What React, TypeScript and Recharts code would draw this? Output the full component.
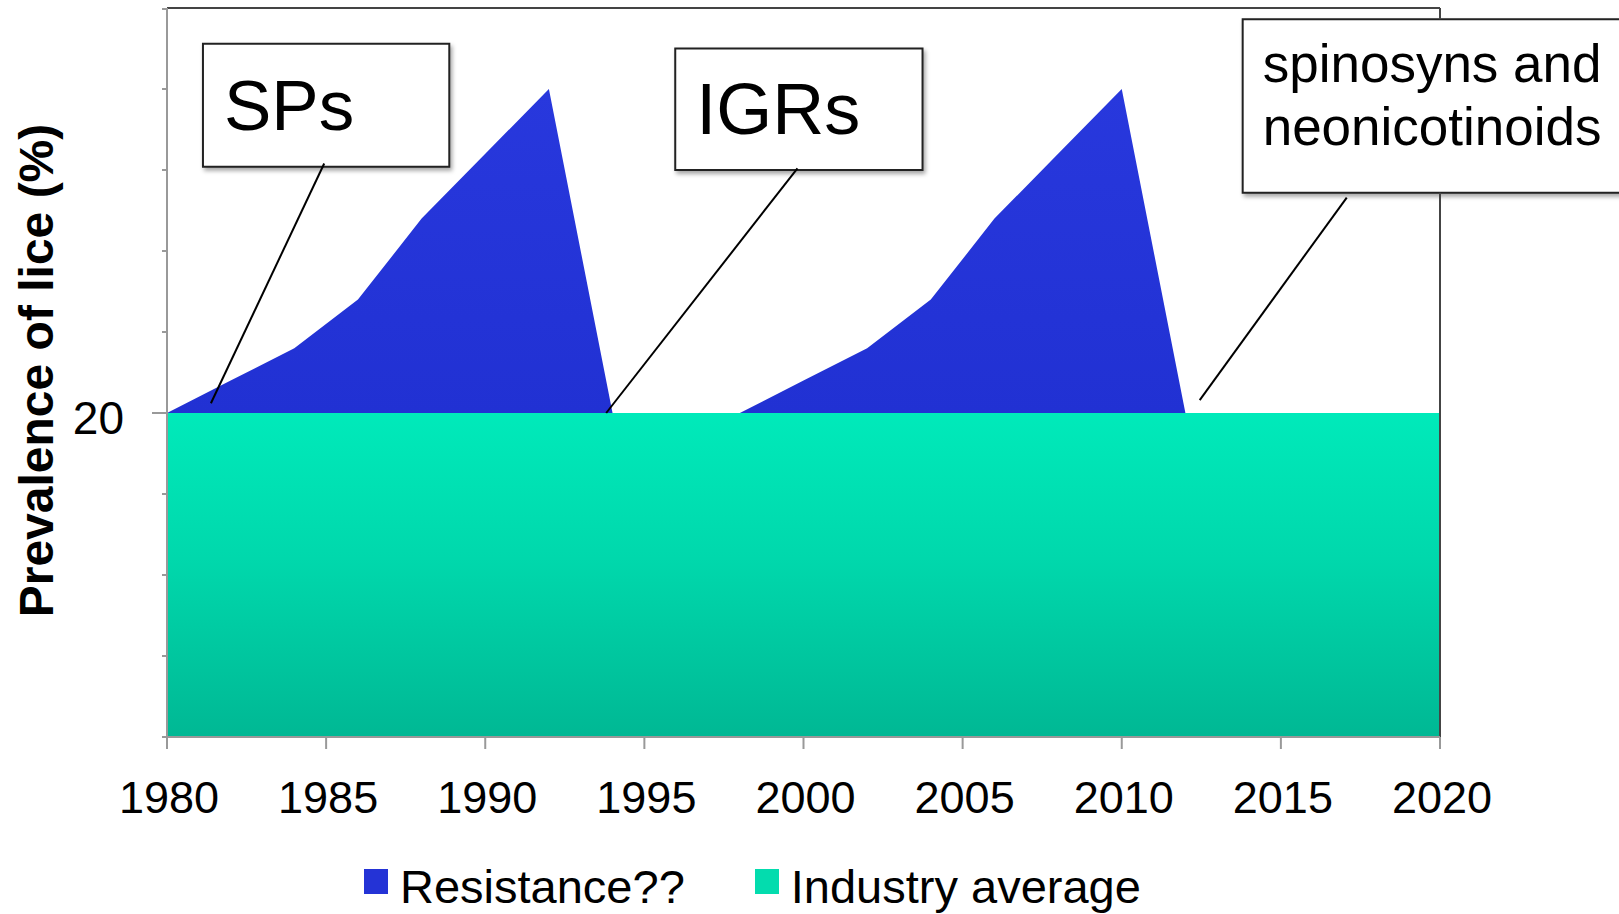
import React from "react";
import {
  AreaChart,
  Area,
  XAxis,
  YAxis,
  Legend,
  ReferenceLine,
  ReferenceArea,
} from "recharts";

const FONT = '"Liberation Sans", Arial, sans-serif';

const YEARS = [
  1980, 1982, 1984, 1986, 1988, 1990, 1992, 1994, 1996, 1998, 2000, 2002,
  2004, 2006, 2008, 2010, 2012, 2014, 2016, 2018, 2020,
];
const INDUSTRY = [
  20, 20, 20, 20, 20, 20, 20, 20, 20, 20, 20, 20, 20, 20, 20, 20, 20, 20, 20,
  20, 20,
];
const RESISTANCE = [
  0, 2, 4, 7, 12, 16, 20, 0, 0, 0, 2, 4, 7, 12, 16, 20, 0, 0, 0, 0, 0,
];

const X_TICKS = [1980, 1985, 1990, 1995, 2000, 2005, 2010, 2015, 2020];
const Y_TICKS = [0, 5, 10, 15, 20, 25, 30, 35, 40, 45];
const Y_LABELLED = [20];

// callout boxes, in data units (box corners, then leader line)
const NOTES = [
  {
    lines: ["SPs"],
    box: [1981.13, 1988.87, 35.2, 42.8],
    leader: [1984.94, 35.4, 1981.38, 20.6],
    size: 71,
    padX: 21,
    base: 86,
    gap: 0,
  },
  {
    lines: ["IGRs"],
    box: [1995.97, 2003.74, 35.0, 42.5],
    leader: [1999.81, 35.1, 1993.8, 20],
    size: 72,
    padX: 21,
    base: 85,
    gap: 0,
  },
  {
    lines: ["spinosyns and", "neonicotinoids"],
    box: [2013.8, 2025.8, 33.6, 44.3],
    leader: [2017.07, 33.3, 2012.45, 20.8],
    size: 53,
    padX: 20,
    base: 63,
    gap: 63,
  },
];

const data = YEARS.map((year, i) => ({
  year,
  industry: INDUSTRY[i],
  resistance: RESISTANCE[i],
}));

function XTick({ x, y, payload }: any) {
  return (
    <g>
      <line x1={x} y1={y} x2={x} y2={y + 12} stroke="#999" strokeWidth={2} />
      <text x={x + 2} y={y + 76} textAnchor="middle" fontSize={45} fill="#000" fontFamily={FONT}>
        {payload.value}
      </text>
    </g>
  );
}

function YTick({ x, y, payload }: any) {
  const major = Y_LABELLED.includes(payload.value);
  return (
    <g>
      <line x1={x - (major ? 15 : 5)} y1={y} x2={x} y2={y} stroke="#999" strokeWidth={2} />
      {major && (
        <text x={x - 43} y={y + 21} textAnchor="end" fontSize={46} fill="#000" fontFamily={FONT}>
          {payload.value}
        </text>
      )}
    </g>
  );
}

function YLabel(props: any) {
  const vb = props.viewBox;
  const cx = vb.x + 53;
  const cy = vb.y + vb.height / 2 - 2;
  return (
    <text
      x={cx}
      y={cy}
      transform={`rotate(-90 ${cx} ${cy})`}
      textAnchor="middle"
      fontSize={48}
      fontWeight="bold"
      fill="#000"
      fontFamily={FONT}
    >
      Prevalence of lice (%)
    </text>
  );
}

function LegendBox() {
  const item = (color: string, label: string, gapAfter: number) => (
    <div style={{ display: "flex", alignItems: "center", marginRight: gapAfter }}>
      <div style={{ width: 24, height: 25, background: color, marginRight: 12, marginTop: -10 }} />
      <span>{label}</span>
    </div>
  );
  return (
    <div
      style={{
        display: "flex",
        alignItems: "center",
        paddingLeft: 364,
        paddingTop: 42,
        height: 97,
        boxSizing: "border-box",
        fontFamily: FONT,
        fontSize: 47,
        color: "#000",
        lineHeight: "50px",
      }}
    >
      {item("#2433D6", "Resistance??", 70)}
      {item("#03DCAE", "Industry average", 0)}
    </div>
  );
}

export default function App() {
  return (
    <div style={{ position: "absolute", left: 0, top: 0, fontFamily: FONT }}>
      <AreaChart
        width={1619}
        height={914}
        data={data}
        margin={{ top: 8, right: 179, left: 0, bottom: 0 }}
      >
        <defs>
          <linearGradient id="gradGreen" x1="0" y1="0" x2="0" y2="1">
            <stop offset="0%" stopColor="#00EABA" />
            <stop offset="45%" stopColor="#00D8AC" />
            <stop offset="100%" stopColor="#00B894" />
          </linearGradient>
          <linearGradient id="gradBlue" x1="0" y1="0" x2="0" y2="1">
            <stop offset="0%" stopColor="#2838DD" />
            <stop offset="100%" stopColor="#2131D3" />
          </linearGradient>
          <filter id="boxShadow" x="-10%" y="-10%" width="130%" height="140%">
            <feDropShadow dx="2" dy="3" stdDeviation="2" floodColor="#000" floodOpacity="0.35" />
          </filter>
        </defs>
        <XAxis
          dataKey="year"
          type="number"
          domain={[1980, 2020]}
          ticks={X_TICKS}
          tick={<XTick />}
          tickLine={false}
          tickSize={0}
          tickMargin={0}
          axisLine={{ stroke: "#999", strokeWidth: 2 }}
          height={80}
        />
        <YAxis
          type="number"
          domain={[0, 45]}
          ticks={Y_TICKS}
          tick={<YTick />}
          tickLine={false}
          tickSize={0}
          tickMargin={0}
          axisLine={{ stroke: "#999", strokeWidth: 2 }}
          width={167}
          label={(p: any) => <YLabel {...p} />}
        />
        <Area
          type="linear"
          dataKey="industry"
          name="Industry average"
          stackId="1"
          stroke="none"
          fill="url(#gradGreen)"
          fillOpacity={1}
          isAnimationActive={false}
        />
        <Area
          type="linear"
          dataKey="resistance"
          name="Resistance??"
          stackId="1"
          stroke="none"
          fill="url(#gradBlue)"
          fillOpacity={1}
          isAnimationActive={false}
        />
        <ReferenceLine y={45} stroke="#444" strokeWidth={2} />
        {/* right frame, broken where the third callout box sits over it */}
        <ReferenceLine
          segment={[
            { x: 2020, y: 0 },
            { x: 2020, y: NOTES[2].box[2] },
          ]}
          stroke="#444"
          strokeWidth={2}
        />
        <ReferenceLine
          segment={[
            { x: 2020, y: NOTES[2].box[3] },
            { x: 2020, y: 45 },
          ]}
          stroke="#444"
          strokeWidth={2}
        />
        {NOTES.map((n, i) => (
          <ReferenceLine
            key={"l" + i}
            segment={[
              { x: n.leader[0], y: n.leader[1] },
              { x: n.leader[2], y: n.leader[3] },
            ]}
            stroke="#000"
            strokeWidth={2}
            ifOverflow="visible"
          />
        ))}
        {NOTES.map((n, i) => (
          <ReferenceArea
            key={"b" + i}
            x1={n.box[0]}
            x2={n.box[1]}
            y1={n.box[2]}
            y2={n.box[3]}
            fill="#fff"
            fillOpacity={1}
            stroke="#222"
            strokeWidth={2}
            strokeOpacity={1}
            filter="url(#boxShadow)"
            ifOverflow="visible"
            label={(p: any) => {
              const vb = p.viewBox;
              return (
                <text fontSize={n.size} fill="#000" fontFamily={FONT}>
                  {n.lines.map((line, k) => (
                    <tspan key={k} x={vb.x + n.padX} y={vb.y + n.base + k * n.gap}>
                      {line}
                    </tspan>
                  ))}
                </text>
              );
            }}
          />
        ))}
        <Legend
          verticalAlign="bottom"
          align="left"
          height={97}
          wrapperStyle={{ left: 0, width: 1619 }}
          content={() => <LegendBox />}
        />
      </AreaChart>
    </div>
  );
}
